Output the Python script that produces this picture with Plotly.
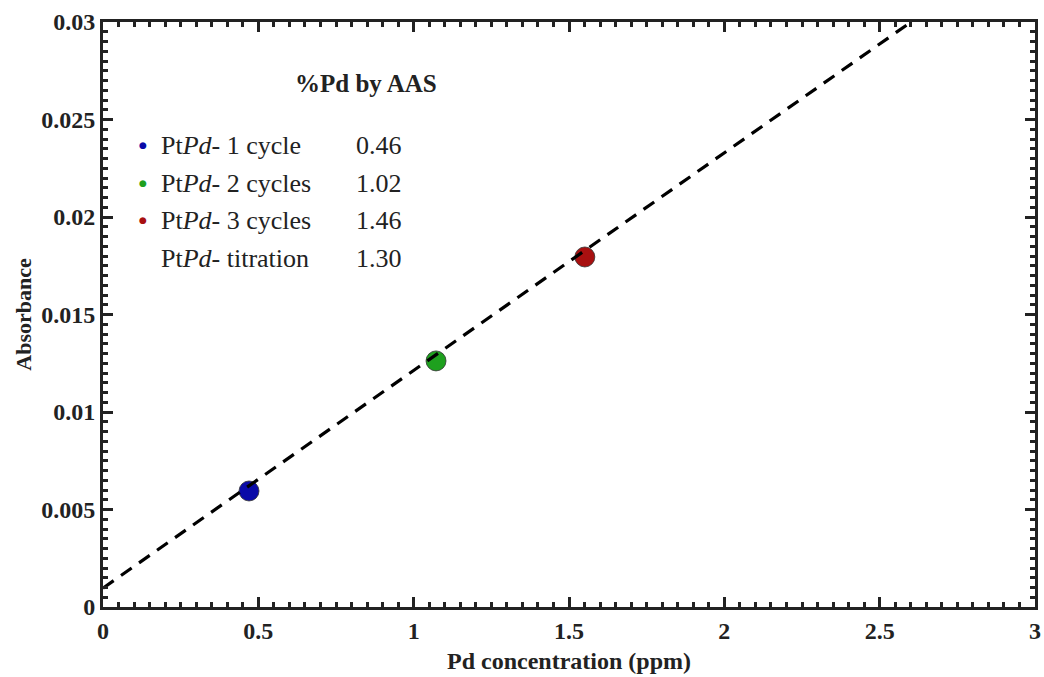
import plotly.graph_objects as go

# data
sample_names = ["PtPd- 1 cycle", "PtPd- 2 cycles", "PtPd- 3 cycles"]
conc_ppm = [0.470, 1.072, 1.551]
absorbance = [0.00595, 0.01262, 0.01795]
point_colors = ["#0a0aa8", "#1ea01e", "#a81010"]
fit_x = [0.0, 2.61]
fit_y = [0.00097, 0.0301]
legend_labels = ["Pt<i>Pd</i>- 1 cycle", "Pt<i>Pd</i>- 2 cycles", "Pt<i>Pd</i>- 3 cycles", "Pt<i>Pd</i>- titration"]
legend_values = ["0.46", "1.02", "1.46", "1.30"]
legend_dot_colors = ["#0a0aa8", "#1ea01e", "#a81010", None]
x_ticks = [0, 0.5, 1, 1.5, 2, 2.5, 3]
x_ticktext = ["0", "0.5", "1", "1.5", "2", "2.5", "3"]
y_ticks = [0, 0.005, 0.01, 0.015, 0.02, 0.025, 0.03]
y_ticktext = ["0", "0.005", "0.01", "0.015", "0.02", "0.025", "0.03"]

FONT = "Liberation Serif"
INK = "#222"

L, R, T, B = 103, 1035, 22, 607
W, H = 1044, 677

fig = go.Figure()
fig.add_trace(go.Scatter(
    x=conc_ppm, y=absorbance, mode="markers",
    marker=dict(size=20, color=point_colors, line=dict(width=0.8, color="#333")),
    showlegend=False, cliponaxis=False))
fig.add_trace(go.Scatter(
    x=fit_x, y=fit_y, mode="lines",
    line=dict(color="black", width=3.2, dash="13px,9px"),
    showlegend=False))

axis_common = dict(
    showline=True, linecolor=INK, linewidth=3, mirror="allticks",
    ticks="inside", ticklen=10, tickwidth=3, tickcolor=INK,
    showgrid=False, zeroline=False, automargin=False,
    tickfont=dict(family=FONT, size=24, color=INK, weight="bold"),
)
minor_common = dict(ticks="inside", ticklen=5, tickwidth=3, tickcolor=INK, showgrid=False)
fig.update_xaxes(range=[0, 3], tickvals=x_ticks, ticktext=x_ticktext,
                 minor=dict(dtick=0.05, **minor_common),
                 title=dict(text="<b>Pd concentration (ppm)</b>", font=dict(family=FONT, size=24, color=INK), standoff=10),
                 **axis_common)
fig.update_yaxes(range=[0, 0.03], tickvals=y_ticks, ticktext=y_ticktext,
                 minor=dict(dtick=0.0005, **minor_common),
                 title=dict(text="<b>Absorbance</b>", font=dict(family=FONT, size=22, color=INK), standoff=4),
                 **axis_common)

pw, ph = R - L, B - T
def px(x):
    return (x - L) / pw
def py(y):
    return (B - y) / ph

annotations = [dict(xref="paper", yref="paper", x=px(293), y=py(84),
                    text="<b>%Pd by AAS</b>", showarrow=False, xanchor="left", yanchor="middle",
                    font=dict(family=FONT, size=25, color=INK))]
rows_y = [145, 183, 220, 258]
for i, (lab, val, col) in enumerate(zip(legend_labels, legend_values, legend_dot_colors)):
    yp = py(rows_y[i])
    if col:
        annotations.append(dict(xref="paper", yref="paper", x=px(143), y=yp,
                                text="●", showarrow=False, xanchor="center", yanchor="middle",
                                font=dict(family="DejaVu Sans", size=9, color=col)))
    annotations.append(dict(xref="paper", yref="paper", x=px(159), y=yp,
                            text=lab, showarrow=False, xanchor="left", yanchor="middle",
                            font=dict(family=FONT, size=26, color=INK)))
    annotations.append(dict(xref="paper", yref="paper", x=px(404), y=yp,
                            text=val, showarrow=False, xanchor="right", yanchor="middle",
                            font=dict(family=FONT, size=26, color=INK)))

fig.update_layout(
    width=W, height=H,
    margin=dict(l=L, r=W - R, t=T, b=H - B, autoexpand=False),
    plot_bgcolor="white", paper_bgcolor="white",
    annotations=annotations,
)
fig.write_html("out.html", config={"displayModeBar": False},
               post_script="document.body.style.margin='0';document.body.style.overflow='hidden';")
